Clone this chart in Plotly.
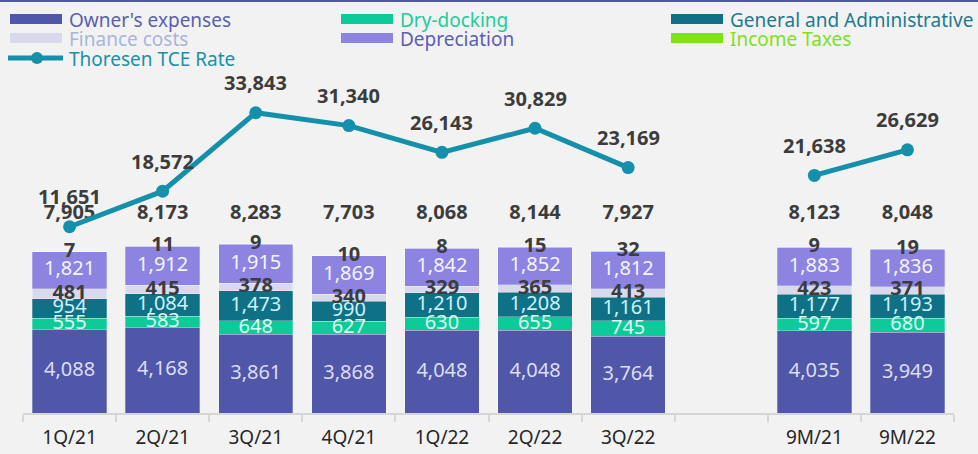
import plotly.graph_objects as go
import numpy as np

categories = ["1Q/21", "2Q/21", "3Q/21", "4Q/21", "1Q/22", "2Q/22", "3Q/22", " ", "9M/21", "9M/22"]
owners_expenses = [4088, 4168, 3861, 3868, 4048, 4048, 3764, None, 4035, 3949]
dry_docking = [555, 583, 648, 627, 630, 655, 745, None, 597, 680]
general_admin = [954, 1084, 1473, 990, 1210, 1208, 1161, None, 1177, 1193]
finance_costs = [481, 415, 378, 340, 329, 365, 413, None, 423, 371]
depreciation = [1821, 1912, 1915, 1869, 1842, 1852, 1812, None, 1883, 1836]
income_taxes = [7, 11, 9, 10, 8, 15, 32, None, 9, 19]
totals = [7905, 8173, 8283, 7703, 8068, 8144, 7927, None, 8123, 8048]
tce_rate = [11651, 18572, 33843, 31340, 26143, 30829, 23169, None, 21638, 26629]

W, H = 978, 454
ML, MR, MT, MB = 23, 24, 70, 41
PW, PH = W - ML - MR, H - MT - MB

FONT = "Noto Sans"
DARK = "#3c3c3c"

series = [
    ("Owner's expenses", owners_expenses, "#5157a8", "#dcdcf2", "normal", "#5a5fb0"),
    ("Dry-docking", dry_docking, "#0ccb98", "#dcfff2", "normal", "#20cc9c"),
    ("General and Administrative", general_admin, "#0e7186", "#cdf2fa", "normal", "#1d7a90"),
    ("Finance costs", finance_costs, "#d9d9ec", DARK, "bold", "#a9b5da"),
    ("Depreciation", depreciation, "#8c84e0", "#f4f4ff", "normal", "#5b5fb8"),
    ("Income Taxes", income_taxes, "#7fe31a", DARK, "bold", "#80e020"),
]
LINE_COLOR = "#1590aa"

fig = go.Figure()

arr = lambda v: np.array([np.nan if x is None else x for x in v], dtype=float)
cum = np.zeros(len(categories))
label_traces = []
for name, vals, color, lcolor, lweight, _ in series:
    a = arr(vals)
    fig.add_trace(go.Bar(x=categories, y=vals, name=name,
                         marker=dict(color=color, line=dict(width=0.6, color="rgba(255,255,255,0.45)")),
                         showlegend=False, hoverinfo="skip"))
    mid = cum + a / 2
    txt = ["" if v is None else f"{v:,}" for v in vals]
    label_traces.append(go.Scatter(x=categories, y=mid, mode="text", text=txt, textposition="middle center",
                                   textfont=dict(family=FONT, size=20, color=lcolor, weight=lweight),
                                   showlegend=False, hoverinfo="skip"))
    cum = cum + np.nan_to_num(a)

for t in label_traces:
    fig.add_trace(t)

TOTAL_LABEL_LEVEL = 9755
fig.add_trace(go.Scatter(x=categories, y=[None if t is None else TOTAL_LABEL_LEVEL for t in totals], mode="text",
                         text=["" if t is None else f"{t:,}" for t in totals], textposition="middle center",
                         textfont=dict(family=FONT, size=20, color=DARK, weight="bold"),
                         showlegend=False, hoverinfo="skip"))

fig.add_trace(go.Scatter(x=categories, y=tce_rate, yaxis="y2", mode="lines+markers", name="Thoresen TCE Rate",
                         line=dict(color=LINE_COLOR, width=5), marker=dict(color=LINE_COLOR, size=13),
                         connectgaps=False, showlegend=False, hoverinfo="skip"))

for c, v in zip(categories, tce_rate):
    if v is None:
        continue
    fig.add_annotation(x=c, y=v, yref="y2", text=f"{v:,}", showarrow=False, yshift=30,
                       font=dict(family=FONT, size=20, color=DARK, weight="bold"))

# custom legend
px = lambda x: (x - ML) / PW
py = lambda y: (H - MB - y) / PH
legend_items = [
    (10, 19, 0), (10, 38, 3), (341, 19, 1), (341, 38, 4), (671, 19, 2), (671, 38, 5)
]
shapes = []
for x0, yc, idx in legend_items:
    name, _, color, _, _, tcolor = series[idx]
    shapes.append(dict(type="rect", xref="paper", yref="paper", x0=px(x0), x1=px(x0 + 52), y0=py(yc + 5), y1=py(yc - 5),
                       fillcolor=color, line=dict(width=0)))
    fig.add_annotation(xref="paper", yref="paper", x=px(x0 + 57), y=py(yc + 1), text=name, showarrow=False,
                       xanchor="left", yanchor="middle", font=dict(family=FONT, size=19, color=tcolor))
shapes.append(dict(type="line", xref="paper", yref="paper", x0=px(8), x1=px(63), y0=py(58), y1=py(58),
                   line=dict(color=LINE_COLOR, width=5)))
shapes.append(dict(type="circle", xref="paper", yref="paper", x0=px(31), x1=px(43), y0=py(64), y1=py(52),
                   fillcolor=LINE_COLOR, line=dict(width=0)))
fig.add_annotation(xref="paper", yref="paper", x=px(67), y=py(59), text="Thoresen TCE Rate", showarrow=False,
                   xanchor="left", yanchor="middle", font=dict(family=FONT, size=19, color="#2090a8"))
shapes.append(dict(type="line", xref="paper", yref="paper", x0=px(0), x1=px(W), y0=py(1), y1=py(1),
                   line=dict(color="#5157a8", width=2)))

fig.update_layout(
    width=W, height=H, barmode="stack", bargap=0.2,
    margin=dict(l=ML, r=MR, t=MT, b=MB, autoexpand=False),
    paper_bgcolor="#f2f2f2", plot_bgcolor="#f2f2f2",
    shapes=shapes,
    xaxis=dict(type="category", categoryorder="array", categoryarray=categories, range=[-0.5, len(categories) - 0.5],
               automargin=False, showline=True, linecolor="#d6d6d6",
               linewidth=2, ticks="outside", tickson="boundaries", ticklen=7, tickcolor="#d6d6d6", tickwidth=2,
               ticklabelstandoff=6,
               tickfont=dict(family=FONT, size=19, color="#262626"), showgrid=False, zeroline=False),
    yaxis=dict(range=[0, 16800], visible=False, showgrid=False, automargin=False),
    yaxis2=dict(range=[-24606, 42165], overlaying="y", visible=False, showgrid=False, automargin=False),
    showlegend=False,
)

fig.write_html("out.html", config={"displayModeBar": False},
               post_script="document.body.style.margin='0px';document.body.style.background='#f2f2f2';")
